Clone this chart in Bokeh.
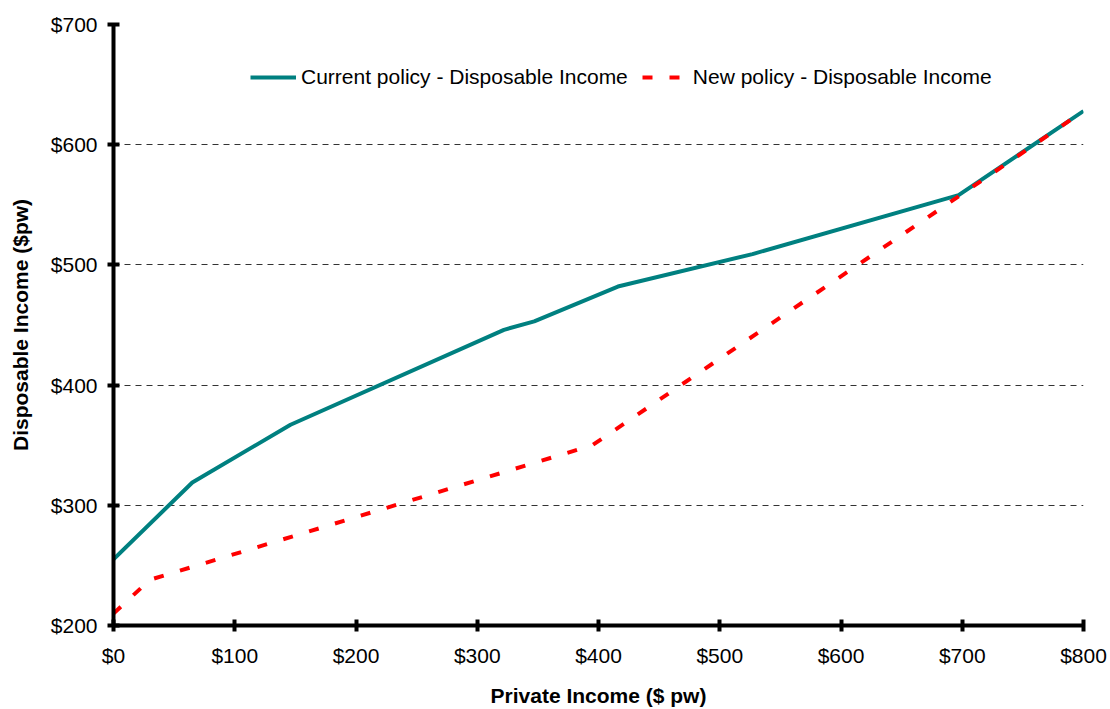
from bokeh.plotting import figure
from bokeh.models import Range1d, NumeralTickFormatter, FixedTicker, Legend, LegendItem
from bokeh.embed import file_html
from bokeh.resources import INLINE

# Private income ($ pw) and resulting disposable income ($ pw)
current_private = [0, 65, 146, 322, 347, 416, 527, 697, 800]
current_disposable = [255, 319, 367, 446, 453, 482, 509, 558, 628]

new_private = [0, 30, 395, 697, 800]
new_disposable = [210, 238, 350, 557, 628]

x_ticks = [0, 100, 200, 300, 400, 500, 600, 700, 800]
y_ticks = [200, 300, 400, 500, 600, 700]

FONT = "Liberation Sans"

p = figure(
    width=1110, height=709,
    x_range=Range1d(0, 800), y_range=Range1d(200, 700),
    output_backend="svg", toolbar_location=None,
    min_border_left=113, min_border_right=27, min_border_top=24, min_border_bottom=80,
)
p.outline_line_color = None
p.background_fill_color = "white"
p.border_fill_color = "white"

# grid: horizontal dashed lines only
p.xgrid.grid_line_color = None
p.ygrid.grid_line_color = "#333333"
p.ygrid.grid_line_width = 1
p.ygrid.grid_line_dash = "6 5"
p.ygrid.ticker = FixedTicker(ticks=y_ticks)

for ax, ticks in ((p.xaxis[0], x_ticks), (p.yaxis[0], y_ticks)):
    ax.ticker = FixedTicker(ticks=ticks)
    ax.formatter = NumeralTickFormatter(format="$0")
    ax.axis_line_width = 4
    ax.axis_line_color = "black"
    ax.major_tick_line_width = 4
    ax.major_tick_line_color = "black"
    ax.major_tick_in = 6
    ax.major_tick_out = 6
    ax.minor_tick_line_color = None
    ax.major_label_text_font = FONT
    ax.major_label_text_font_size = "21px"
    ax.major_label_text_color = "black"
    ax.axis_label_text_font = FONT
    ax.axis_label_text_font_size = "21px"
    ax.axis_label_text_font_style = "bold"
    ax.axis_label_text_color = "black"

p.xaxis.axis_label = "Private Income ($ pw)"
p.yaxis.axis_label = "Disposable Income ($pw)"
p.xaxis.major_label_standoff = 12
p.xaxis.axis_label_standoff = 14
p.yaxis.major_label_standoff = 10
p.yaxis.axis_label_standoff = 16

r_cur = p.line(current_private, current_disposable, line_color="#008080", line_width=4)
r_new = p.line(new_private, new_disposable, line_color="#FF0000", line_width=4,
               line_dash="10 17")

legend = Legend(
    items=[
        LegendItem(label="Current policy - Disposable Income", renderers=[r_cur]),
        LegendItem(label="New policy - Disposable Income", renderers=[r_new]),
    ],
    orientation="horizontal",
    location=(137, 536),
    padding=0, margin=0, spacing=14,
    glyph_width=46, glyph_height=20, label_standoff=5,
    label_text_font=FONT, label_text_font_size="21px", label_text_color="black",
    border_line_color=None, background_fill_alpha=0,
)
p.add_layout(legend, "center")

open("out.html", "w").write(file_html(p, INLINE))
